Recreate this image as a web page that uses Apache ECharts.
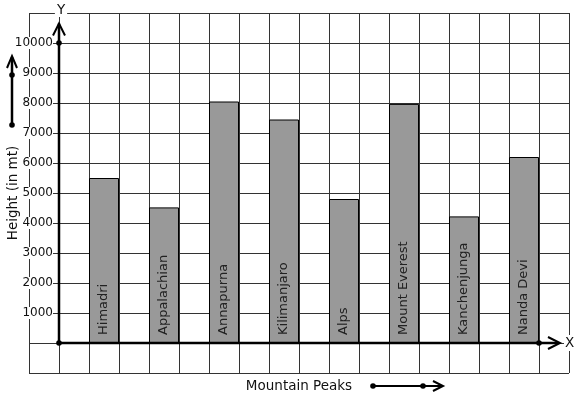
<!DOCTYPE html>
<html>
<head>
<meta charset="utf-8">
<script src="https://cdn.jsdelivr.net/npm/echarts@6/dist/echarts.min.js"></script>
<style>
html,body{margin:0;padding:0;background:#fff;}
#c{width:577px;height:399px;}
</style>
</head>
<body>
<div id="c"></div>
<script>
const peaks = ['Himadri','Appalachian','Annapurna','Kilimanjaro','Alps','Mount Everest','Kanchenjunga','Nanda Devi'];
const heights = [5500, 4520, 8050, 7450, 4800, 7970, 4220, 6200];
const yLabelMin = 1000, yLabelMax = 10000;
const slotCount = 18;

const slots = [];
for (let s = 0; s < slotCount; s++) {
  const k = (s - 2) / 2;
  slots.push(s >= 2 && s % 2 === 0 && k < peaks.length ? peaks[k] : 'gap' + s);
}

const FONT = 'DejaVu Sans';
const chart = echarts.init(document.getElementById('c'), null, {renderer:'canvas'});
chart.setOption({
  animation:false,
  backgroundColor:'#fff',
  grid:{left:29, right:8, top:13, bottom:26, containLabel:false, outerBoundsMode:'none'},
  xAxis:[
    {type:'category', data:slots, boundaryGap:true, position:'bottom',
     axisLine:{show:false}, axisTick:{show:false}, axisLabel:{show:false}, splitLine:{show:false}},
    {type:'value', min:0, max:slotCount, interval:1, position:'bottom',
     axisLine:{show:false}, axisTick:{show:false}, axisLabel:{show:false},
     splitLine:{show:true, lineStyle:{color:'#333', width:1}},
     name:'Mountain Peaks', nameLocation:'middle', nameGap:6, nameMoveOverlap:false,
     nameTextStyle:{color:'#111', fontSize:13.5, fontFamily:FONT}}
  ],
  yAxis:{type:'value', min:-1000, max:11000, interval:1000, offset:-30,
    axisLine:{show:false}, axisTick:{show:false},
    axisLabel:{color:'#111', fontSize:12, fontFamily:FONT, margin:6, backgroundColor:'#fff', padding:0,
      formatter:v => (v >= yLabelMin && v <= yLabelMax) ? String(v) : ''},
    splitLine:{show:true, lineStyle:{color:'#333', width:1}},
    name:'Height (in mt)', nameLocation:'middle', nameGap:39, nameMoveOverlap:false,
    nameTextStyle:{color:'#111', fontSize:13.5, fontFamily:FONT}},
  series:[{
    type:'bar', xAxisIndex:0, yAxisIndex:0,
    data:peaks.map((p,i)=>[p, heights[i]]),
    barWidth:'100%',
    itemStyle:{color:'#999999', borderColor:'#000', borderWidth:1},
    label:{show:true, position:'insideBottom', rotate:90, align:'left', verticalAlign:'middle',
      distance:8, formatter:p=>p.name, color:'#222', fontSize:13, fontFamily:FONT}
  }]
});

const px = v => chart.convertToPixel({xAxisIndex:1, yAxisIndex:0}, v);
const o = px([1,0]);
const yTip = px([1,10650]);
const y10k = px([1,10000]);
const xTip = px([17.7,0]);
const xDot = px([17,0]);
const blk = {stroke:'#000', lineWidth:2.5, fill:null};
const dot = (x,y)=>({type:'circle', shape:{cx:x, cy:y, r:2.8}, style:{fill:'#000'}, z:100});
chart.setOption({graphic:[
  {type:'line', shape:{x1:o[0], y1:o[1], x2:o[0], y2:yTip[1]}, style:blk, z:100},
  {type:'polyline', shape:{points:[[o[0]-6,yTip[1]+12],[o[0],yTip[1]],[o[0]+6,yTip[1]+12]]}, style:{stroke:'#000', lineWidth:2, fill:null}, z:100},
  {type:'line', shape:{x1:o[0], y1:o[1], x2:xTip[0]-2, y2:o[1]}, style:blk, z:100},
  {type:'polyline', shape:{points:[[xTip[0]-12,o[1]-6],[xTip[0],o[1]],[xTip[0]-12,o[1]+6]]}, style:{stroke:'#000', lineWidth:2, fill:null}, z:100},
  dot(o[0],o[1]), dot(y10k[0],y10k[1]), dot(xDot[0],xDot[1]),
  {type:'text', x:o[0]+2, y:10, style:{text:'Y', fill:'#111', font:'13.5px "DejaVu Sans"', align:'center', verticalAlign:'middle', backgroundColor:'#fff', padding:[0,2]}, z:100},
  {type:'text', x:xTip[0]+4, y:o[1], style:{text:'X', fill:'#111', font:'13.5px "DejaVu Sans"', align:'left', verticalAlign:'middle', backgroundColor:'#fff', padding:[1,1]}, z:100},
  // decorative direction arrows
  {type:'line', shape:{x1:12, y1:125, x2:12, y2:57}, style:blk, z:100},
  {type:'polyline', shape:{points:[[7,68],[12,56],[17,68]]}, style:{stroke:'#000', lineWidth:2, fill:null}, z:100},
  dot(12,125), dot(12,75),
  {type:'line', shape:{x1:373, y1:386, x2:441, y2:386}, style:{stroke:'#000', lineWidth:2, fill:null}, z:100},
  {type:'polyline', shape:{points:[[433,381],[443,386],[433,391]]}, style:{stroke:'#000', lineWidth:2, fill:null}, z:100},
  dot(373,386), dot(423,386)
]});
</script>
</body>
</html>
